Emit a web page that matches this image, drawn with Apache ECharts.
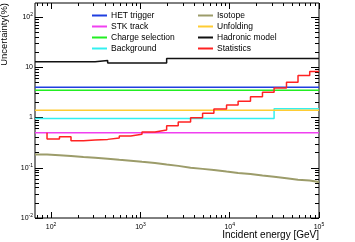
<!DOCTYPE html>
<html><head><meta charset="utf-8">
<script src="https://cdn.jsdelivr.net/npm/echarts@6/dist/echarts.min.js"></script>
<style>html,body{margin:0;padding:0;background:#fff}#c{width:355px;height:242px}</style>
</head><body><div id="c"></div>
<script>
// ---- data ----
const xMin = 66, xMax = 100000;
const yMin = 0.01, yMax = 190;
const xMajorTicks = [100, 1000, 10000, 100000];
const xMinorTicks = [70, 80, 90, 200, 300, 400, 500, 600, 700, 800, 900, 2000, 3000, 4000, 5000, 6000, 7000, 8000, 9000, 20000, 30000, 40000, 50000, 60000, 70000, 80000, 90000];
const yMajorTicks = [0.01, 0.1, 1, 10, 100];
const yMinorTicks = [0.02, 0.03, 0.04, 0.05, 0.06, 0.07, 0.08, 0.09, 0.2, 0.3, 0.4, 0.5, 0.6, 0.7, 0.8, 0.9, 2, 3, 4, 5, 6, 7, 8, 9, 20, 30, 40, 50, 60, 70, 80, 90];

const binEdges = [90, 124, 167, 230, 311, 430, 580, 779, 1041, 1456, 1967, 2651, 3647, 4969, 6650, 9220, 12420, 17090, 23280, 31410, 43240, 58210, 78700, 100000];
const statistics = [0.372, 0.414, 0.344, 0.356, 0.367, 0.390, 0.428, 0.462, 0.514, 0.563, 0.686, 0.813, 0.99, 1.21, 1.48, 1.78, 2.10, 2.60, 3.18, 3.88, 5.04, 6.83, 8.2];
const statisticsStart = 0.5;
const isotopeEdges = [66].concat(binEdges);
const isotope = [0.184, 0.178, 0.171, 0.163, 0.158, 0.151, 0.144, 0.138, 0.131, 0.124, 0.116, 0.109, 0.100, 0.095, 0.090, 0.084, 0.079, 0.075, 0.070, 0.066, 0.062, 0.058, 0.056, 0.052];
const hadronicEdges = [66, 311, 430, 1967, 100000];
const hadronic = [12.8, 13.6, 12.2, 15.0];
const backgroundEdges = [66, 31410, 100000];
const background = [0.96, 1.5];
const hetTrigger = 4.0;
const stkTrack = 0.5;
const chargeSelection = 3.5;
const unfolding = 1.4;

const names = ['HET trigger', 'STK track', 'Charge selection', 'Background', 'Isotope', 'Unfolding', 'Hadronic model', 'Statistics'];
const xTitle = 'Incident energy [GeV]';
const yTitle = 'Uncertainty(%)';

// ---- helpers ----
function steps(edges, vals) {
  const d = vals.map((v, i) => [edges[i], v]);
  d.push([edges[edges.length - 1], vals[vals.length - 1]]);
  return d;
}
function flat(v) { return [[xMin, v], [xMax, v]]; }

const FONT = 'Liberation Sans, Arial, Helvetica, sans-serif';
const rich = {
  b: { fontSize: 7, fontFamily: FONT, color: '#000' },
  s: { fontSize: 5, fontFamily: FONT, color: '#000', verticalAlign: 'top', padding: [0, 0, 5, 0] }
};
function powLabel(v) {
  const e = Math.round(Math.log10(v));
  if (e === 0) return '{b|1}';
  if (e === 1) return '{b|10}';
  return '{b|10}{s|' + e + '}';
}

function xAxis(pos, ticks, len, label) {
  return {
    type: 'log', logBase: 10, min: xMin, max: xMax, position: pos, gridIndex: 0,
    axisLine: { show: false }, splitLine: { show: false },
    axisTick: { show: true, inside: true, length: len, customValues: ticks, lineStyle: { color: '#000', width: 1 } },
    axisLabel: label ? { show: true, customValues: xMajorTicks, formatter: powLabel, rich: rich, margin: 4 } : { show: false }
  };
}
function yAxis(pos, ticks, len, label) {
  return {
    type: 'log', logBase: 10, min: yMin, max: yMax, position: pos, gridIndex: 0,
    axisLine: { show: false }, splitLine: { show: false },
    axisTick: { show: true, inside: true, length: len, customValues: ticks, lineStyle: { color: '#000', width: 1 } },
    axisLabel: label ? { show: true, customValues: yMajorTicks, formatter: powLabel, rich: rich, margin: 2 } : { show: false },
    name: label ? yTitle : '',
    nameLocation: 'end', nameGap: 0, nameRotate: 90,
    nameTextStyle: { fontFamily: FONT, fontSize: 9.5, color: '#000', align: 'right', verticalAlign: 'bottom', padding: [0, 0, 26, 0] }
  };
}

function line(name, data, color, width) {
  return {
    name: name, type: 'line', data: data, step: 'end', showSymbol: false, symbol: 'none',
    xAxisIndex: 0, yAxisIndex: 0,
    lineStyle: { color: color, width: width }, itemStyle: { color: color },
    animation: false, silent: true
  };
}

const legendBase = {
  orient: 'vertical', icon: 'rect', itemWidth: 15, itemHeight: 2, itemGap: 0,
  textStyle: { fontFamily: FONT, fontSize: 8.5, color: '#000', lineHeight: 11, padding: [0, 0, 0, -1] },
  padding: 0, selectedMode: false
};

const chart = echarts.init(document.getElementById('c'), null, { renderer: 'canvas' });
chart.setOption({
  animation: false,
  backgroundColor: '#fff',
  title: {
    text: xTitle, right: 36, top: 230, padding: 0,
    textStyle: { fontFamily: FONT, fontSize: 10, fontWeight: 'normal', color: '#000' }
  },
  grid: { left: 35, right: 36, top: 3, bottom: 24, show: true, borderColor: '#000', borderWidth: 1, containLabel: false, outerBoundsMode: 'none' },
  legend: [
    Object.assign({}, legendBase, { left: 92, top: 10, data: names.slice(0, 4) }),
    Object.assign({}, legendBase, { left: 198, top: 10, data: names.slice(4) })
  ],
  xAxis: [
    xAxis('bottom', xMajorTicks, 6, true),
    xAxis('bottom', xMinorTicks, 3, false),
    xAxis('top', xMajorTicks, 6, false),
    xAxis('top', xMinorTicks, 3, false)
  ],
  yAxis: [
    yAxis('left', yMajorTicks, 8, true),
    yAxis('left', yMinorTicks, 4, false),
    yAxis('right', yMajorTicks, 8, false),
    yAxis('right', yMinorTicks, 4, false)
  ],
  series: [
    line(names[0], flat(hetTrigger), '#1f3ee0', 1.5),
    line(names[1], flat(stkTrack), '#f040f0', 1.5),
    line(names[2], flat(chargeSelection), '#22ee22', 1.5),
    line(names[3], steps(backgroundEdges, background), '#33f0f0', 1.5),
    line(names[4], steps(isotopeEdges, isotope), '#9c9c6a', 2),
    line(names[5], flat(unfolding), '#ffcc33', 1.5),
    line(names[6], steps(hadronicEdges, hadronic), '#111111', 1.5),
    line(names[7], [[binEdges[0], statisticsStart]].concat(steps(binEdges, statistics)), '#ff2222', 1.5)
  ]
});
</script></body></html>
